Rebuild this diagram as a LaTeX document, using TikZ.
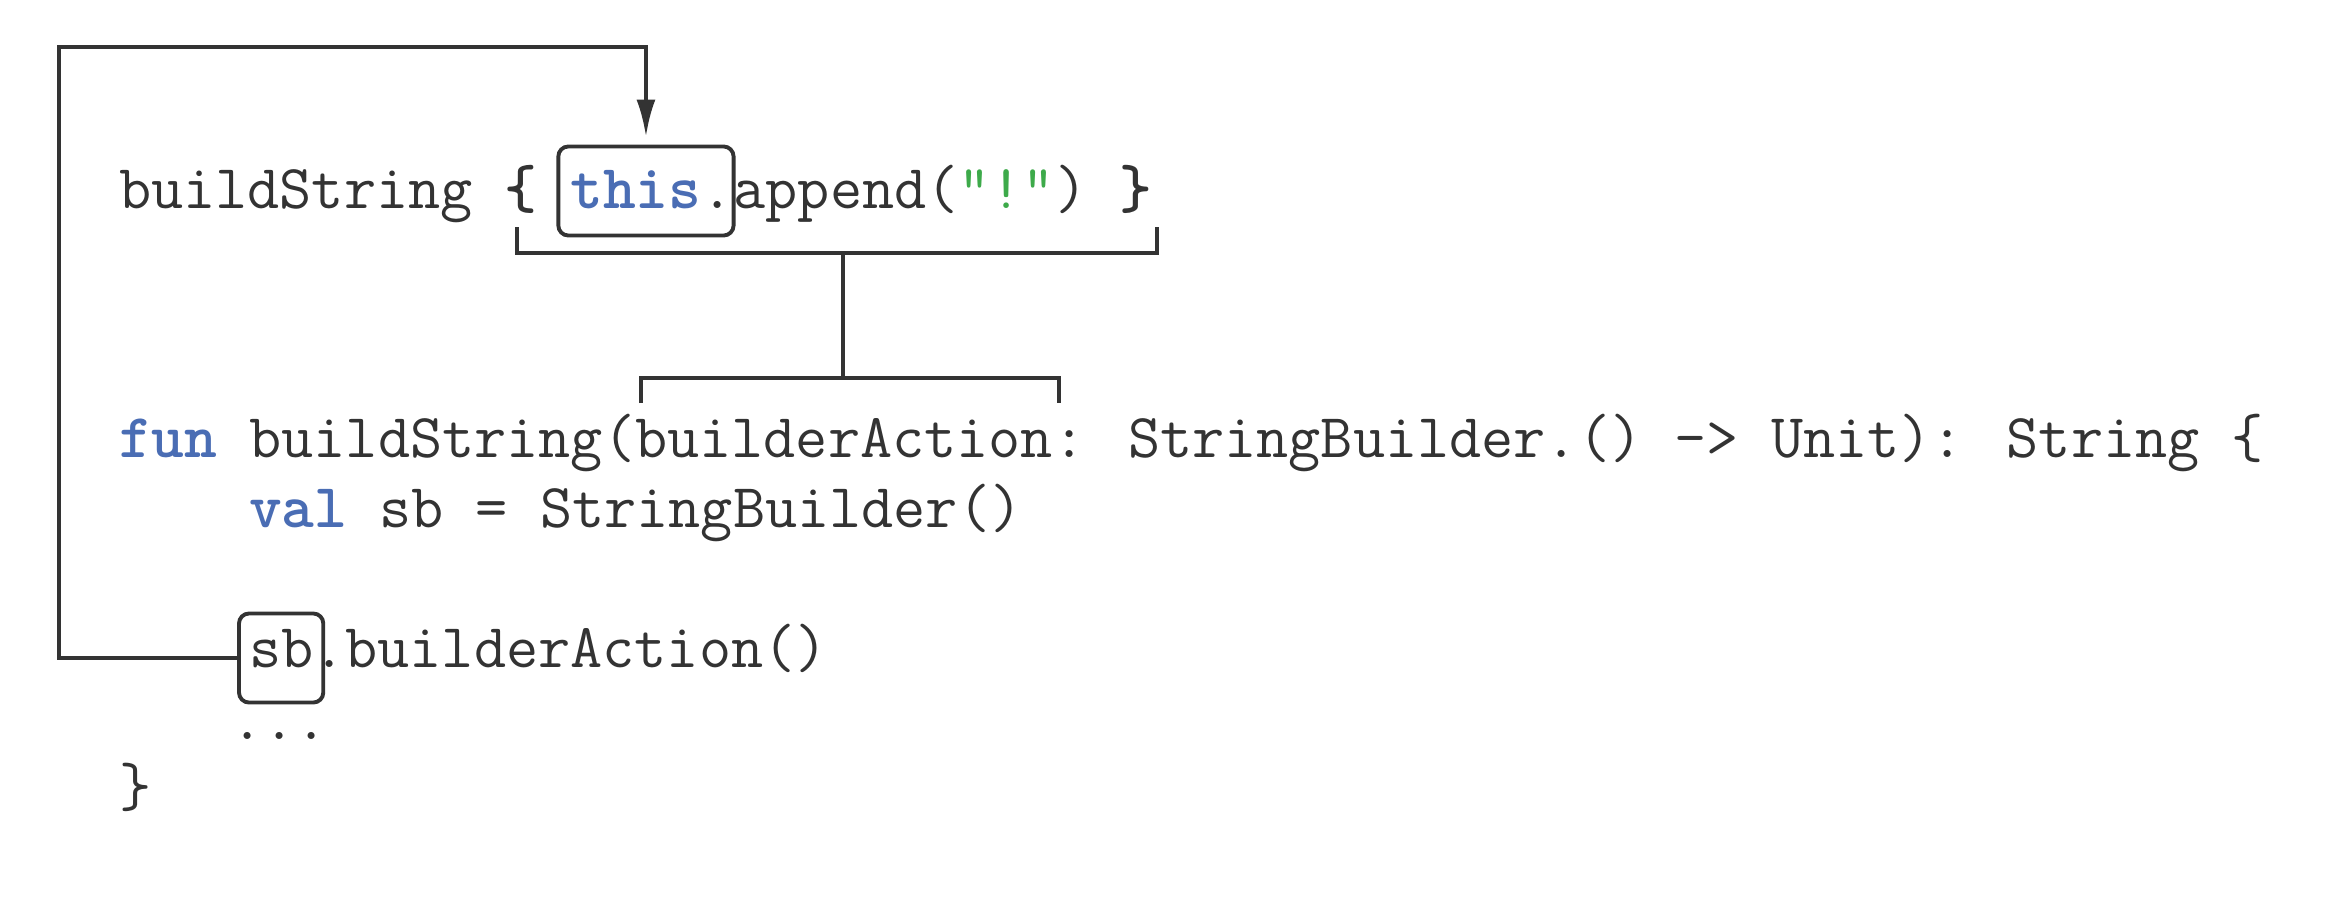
\documentclass[tikz,border=0pt]{standalone}
\usepackage{fontspec}
\usetikzlibrary{positioning, fit, arrows.meta}
\definecolor{ink}{HTML}{333333}
\definecolor{kwblue}{HTML}{4A6DB4}
\definecolor{strgreen}{HTML}{3DAA4A}
\newcommand{\kw}[1]{\textbf{\textcolor{kwblue}{#1}}}
\newcommand{\lit}[1]{\textcolor{strgreen}{#1}}

\begin{document}
\begin{tikzpicture}[x=0.01cm, y=-0.01cm,
    code/.style={inner sep=0pt, outer sep=0pt, anchor=base west, text=ink,
      font=\ttfamily\fontsize{17.75pt}{20pt}\selectfont,
      text height=0.38cm, text depth=0.11cm},
    hl/.style={draw=ink, line width=1.1pt, rounded corners=0.1cm,
      inner xsep=0.06cm, inner ysep=0.2cm},
    wire/.style={draw=ink, line width=1.1pt}]
  \useasboundingbox (0,0) rectangle (2338,914);
  % the call with the lambda
  \node[code] (call) at (119,208) {buildString \textbf{\{}};
  \node[code, base right=0.328cm of call] (this) {\kw{this}.};
  \node[code, base right=0pt of this] (rest) {append(\lit{"!"})\ \textbf{\}}};
  \node[hl, fit=(this), xshift=-0.06cm, yshift=0.035cm] (thisbox) {};
  % the function itself
  \node[code] (sig) at (119,457) {\kw{fun} buildString(builderAction: StringBuilder.() -> Unit): String \{};
  \node[code] (decl) at (249,527) {\kw{val} sb = StringBuilder()};
  \node[code] (sb) at (249,667) {sb};
  \node[code, base right=0pt of sb] (invoke) {.builderAction()};
  \node[hl, fit=(sb), inner xsep=0.1cm, yshift=-0.045cm] (sbbox) {};
  \node[code] (dots) at (231,739) {...};
  \node[code] (close) at (119,806) {\}};
  % brackets
  \coordinate (lamL) at (517,227);
  \coordinate (lamR) at (1157,227);
  \coordinate (argL) at (641,403);
  \coordinate (argR) at (1059,403);
  \draw[wire] (lamL) |- (lamR |- 0,253) -- (lamR);
  \draw[wire] (argL) |- (argR |- 0,378) -- (argR);
  \draw[wire] (843,253) -- (843,378);
  % receiver loop
  \coordinate (loop) at (59,47);
  \draw[wire, -{Latex[length=0.37cm, width=0.19cm]}, shorten >=0.08cm]
    (sbbox.west) -| (loop) -| (thisbox.north);
\end{tikzpicture}
\end{document}
